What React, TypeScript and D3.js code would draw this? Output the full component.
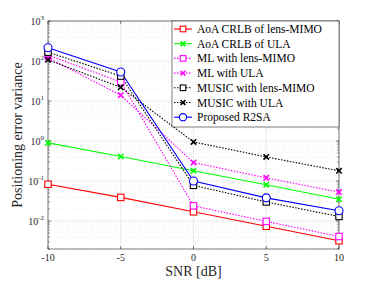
import { useEffect, useRef } from "react";
import * as d3 from "d3";

// Dados
const snr = [-10, -5, 0, 5, 10];

const crlbLens = [0.083, 0.039, 0.017, 0.0074, 0.0032];
const crlbUla = [0.9, 0.41, 0.18, 0.081, 0.035];
const mlLens = [140, 30, 0.024, 0.0098, 0.0041];
const mlUla = [120, 14, 0.29, 0.12, 0.053];
const musicLens = [166, 42, 0.078, 0.03, 0.013];
const musicUla = [107, 22, 0.95, 0.4, 0.18];
const r2sa = [215, 53, 0.1, 0.038, 0.018];

const xTicks = [-10, -5, 0, 5, 10];
const yDecades = [-2, -1, 0, 1, 2, 3];

interface Serie {
  nome: string;
  valores: number[];
  cor: string;
  marcador: "square" | "x" | "circle";
  tracejado: boolean;
}

const series: Serie[] = [
  { nome: "AoA CRLB of lens-MIMO", valores: crlbLens, cor: "#ff0000", marcador: "square", tracejado: false },
  { nome: "AoA CRLB of ULA", valores: crlbUla, cor: "#00ff00", marcador: "x", tracejado: false },
  { nome: "ML with lens-MIMO", valores: mlLens, cor: "#ff00ff", marcador: "square", tracejado: true },
  { nome: "ML with ULA", valores: mlUla, cor: "#ff00ff", marcador: "x", tracejado: true },
  { nome: "MUSIC with lens-MIMO", valores: musicLens, cor: "#000000", marcador: "square", tracejado: true },
  { nome: "MUSIC with ULA", valores: musicUla, cor: "#000000", marcador: "x", tracejado: true },
  { nome: "Proposed R2SA", valores: r2sa, cor: "#0000ff", marcador: "circle", tracejado: false }
];

const FONTE = "'Liberation Serif', 'DejaVu Serif', serif";

const App = () => {
  const svgRef = useRef<SVGSVGElement>(null);

  useEffect(() => {
    if (!svgRef.current) return;
    const width = 374;
    const height = 281;
    const margin = { top: 21, right: 35, bottom: 32, left: 48 };
    const innerWidth = width - margin.left - margin.right;
    const innerHeight = height - margin.top - margin.bottom;

    const svg = d3.select(svgRef.current);
    svg.selectAll("*").remove();
    svg.attr("width", width).attr("height", height);

    svg.append("rect").attr("width", width).attr("height", height).attr("fill", "white");

    const g = svg.append("g").attr("transform", `translate(${margin.left},${margin.top})`);

    const x = d3.scaleLinear().domain([-10, 10]).range([0, innerWidth]);
    const y = d3.scaleLog().domain([0.002, 1000]).range([innerHeight, 0]);

    // Grade menor (pontilhada)
    const menores: number[] = [];
    for (let e = -3; e < 3; e++) {
      for (let k = 2; k <= 9; k++) {
        const v = k * Math.pow(10, e);
        if (v >= 0.002 && v <= 1000) menores.push(v);
      }
    }
    g.append("g")
      .selectAll("line")
      .data(menores)
      .enter()
      .append("line")
      .attr("x1", 0)
      .attr("x2", innerWidth)
      .attr("y1", (d) => y(d))
      .attr("y2", (d) => y(d))
      .attr("stroke", "#e3e3e3")
      .attr("stroke-width", 0.6)
      .attr("stroke-dasharray", "1,2");

    // Grade maior
    g.append("g")
      .selectAll("line")
      .data(yDecades)
      .enter()
      .append("line")
      .attr("x1", 0)
      .attr("x2", innerWidth)
      .attr("y1", (d) => y(Math.pow(10, d)))
      .attr("y2", (d) => y(Math.pow(10, d)))
      .attr("stroke", "#e6e6e6")
      .attr("stroke-width", 0.8);

    g.append("g")
      .selectAll("line")
      .data(xTicks)
      .enter()
      .append("line")
      .attr("x1", (d) => x(d))
      .attr("x2", (d) => x(d))
      .attr("y1", 0)
      .attr("y2", innerHeight)
      .attr("stroke", "#e6e6e6")
      .attr("stroke-width", 0.8);

    // Caixa e marcas
    g.append("rect")
      .attr("width", innerWidth)
      .attr("height", innerHeight)
      .attr("fill", "none")
      .attr("stroke", "#262626")
      .attr("stroke-width", 0.6);

    xTicks.forEach((t) => {
      g.append("line").attr("x1", x(t)).attr("x2", x(t)).attr("y1", innerHeight).attr("y2", innerHeight - 3)
        .attr("stroke", "#262626").attr("stroke-width", 0.6);
      g.append("line").attr("x1", x(t)).attr("x2", x(t)).attr("y1", 0).attr("y2", 3)
        .attr("stroke", "#262626").attr("stroke-width", 0.6);
      g.append("text")
        .attr("x", x(t))
        .attr("y", innerHeight + 12)
        .attr("text-anchor", "middle")
        .style("font-family", FONTE)
        .style("font-size", "10px")
        .attr("fill", "#262626")
        .text(t);
    });

    yDecades.forEach((e) => {
      const yy = y(Math.pow(10, e));
      g.append("line").attr("x1", 0).attr("x2", 3).attr("y1", yy).attr("y2", yy)
        .attr("stroke", "#262626").attr("stroke-width", 0.6);
      g.append("line").attr("x1", innerWidth).attr("x2", innerWidth - 3).attr("y1", yy).attr("y2", yy)
        .attr("stroke", "#262626").attr("stroke-width", 0.6);
      const txt = g.append("text")
        .attr("x", -4)
        .attr("y", yy + 4)
        .attr("text-anchor", "end")
        .style("font-family", FONTE)
        .style("font-size", "10px")
        .attr("fill", "#262626");
      txt.append("tspan").text("10");
      txt.append("tspan").attr("dy", -5).style("font-size", "7px").text(e);
    });
    menores.forEach((v) => {
      g.append("line").attr("x1", 0).attr("x2", 1.8).attr("y1", y(v)).attr("y2", y(v))
        .attr("stroke", "#262626").attr("stroke-width", 0.5);
      g.append("line").attr("x1", innerWidth).attr("x2", innerWidth - 1.8).attr("y1", y(v)).attr("y2", y(v))
        .attr("stroke", "#262626").attr("stroke-width", 0.5);
    });

    // Rótulos dos eixos
    svg.append("text")
      .attr("x", margin.left + innerWidth / 2)
      .attr("y", height - 5)
      .attr("text-anchor", "middle")
      .style("font-family", FONTE)
      .style("font-size", "14px")
      .attr("fill", "#262626")
      .text("SNR [dB]");

    svg.append("text")
      .attr("transform", `translate(22,${margin.top + innerHeight / 2}) rotate(-90)`)
      .attr("text-anchor", "middle")
      .style("font-family", FONTE)
      .style("font-size", "14px")
      .attr("fill", "#262626")
      .text("Positioning error variance");

    const desenhaMarcador = (
      sel: d3.Selection<SVGGElement, unknown, null, undefined>,
      s: Serie,
      cx: number,
      cy: number,
      tam: number
    ) => {
      if (s.marcador === "square") {
        sel.append("rect")
          .attr("x", cx - tam).attr("y", cy - tam)
          .attr("width", tam * 2).attr("height", tam * 2)
          .attr("fill", "white").attr("stroke", s.cor).attr("stroke-width", 1.1);
      } else if (s.marcador === "circle") {
        sel.append("circle")
          .attr("cx", cx).attr("cy", cy).attr("r", tam + 0.8)
          .attr("fill", "white").attr("stroke", s.cor).attr("stroke-width", 1.1);
      } else {
        const d = tam * 0.85;
        sel.append("path")
          .attr("d", `M${cx - d},${cy - d}L${cx + d},${cy + d}M${cx - d},${cy + d}L${cx + d},${cy - d}`)
          .attr("stroke", s.cor).attr("stroke-width", 1.6);
      }
    };

    const linha = d3.line<number>()
      .x((_, i) => x(snr[i]))
      .y((d) => y(d));

    series.forEach((s) => {
      g.append("path")
        .datum(s.valores)
        .attr("fill", "none")
        .attr("stroke", s.cor)
        .attr("stroke-width", 1.1)
        .attr("stroke-dasharray", s.tracejado ? "1.5,1.5" : null)
        .attr("d", linha);
    });
    series.forEach((s) => {
      const gm = g.append("g");
      s.valores.forEach((v, i) => desenhaMarcador(gm, s, x(snr[i]), y(v), 3.2));
    });

    // Legenda
    const lx = 172;
    const ly = 21;
    const leg = svg.append("g");
    leg.append("rect")
      .attr("x", lx)
      .attr("y", ly)
      .attr("width", 339 - lx)
      .attr("height", 106)
      .attr("fill", "white")
      .attr("stroke", "#262626")
      .attr("stroke-width", 0.6);
    series.forEach((s, i) => {
      const yy = ly + 8 + i * 14.7;
      leg.append("line")
        .attr("x1", lx + 2)
        .attr("x2", lx + 20)
        .attr("y1", yy)
        .attr("y2", yy)
        .attr("stroke", s.cor)
        .attr("stroke-width", 1.1)
        .attr("stroke-dasharray", s.tracejado ? "1.5,1.5" : null);
      desenhaMarcador(leg, s, lx + 11, yy, 2.8);
      leg.append("text")
        .attr("x", lx + 25)
        .attr("y", yy + 4)
        .style("font-family", FONTE)
        .style("font-size", "11.5px")
        .attr("fill", "#000")
        .text(s.nome);
    });
  }, []);

  return (
    <div style={{ position: "absolute", left: 0, top: 0 }}>
      <svg ref={svgRef} style={{ display: "block" }} />
    </div>
  );
};

export default App;
